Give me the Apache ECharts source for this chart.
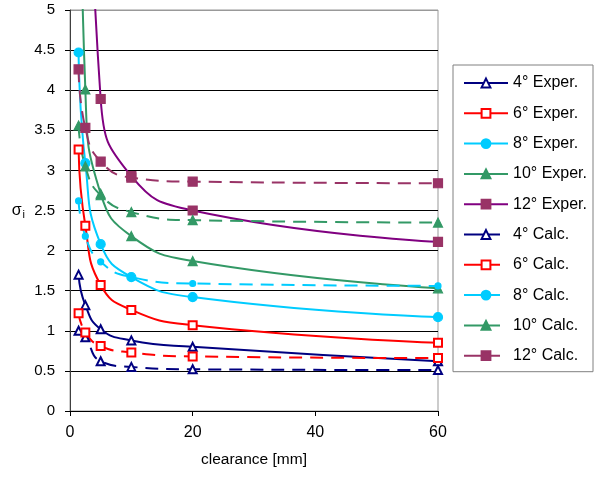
<!DOCTYPE html>
<html>
<head>
<meta charset="utf-8">
<script src="https://cdn.jsdelivr.net/npm/echarts@6/dist/echarts.min.js"></script>
<style>
  html, body { margin: 0; padding: 0; background: #fff; }
  #main { width: 610px; height: 477px; }
</style>
</head>
<body>
<div id="main"></div>
<script>
// clearance positions [mm]
var clearance = [1.4, 2.5, 5, 10, 20, 60];

// experimental curves (solid)
var exp4 = [1.70, 1.32, 1.02, 0.88, 0.80, 0.62];
var exp6 = [3.26, 2.31, 1.57, 1.26, 1.07, 0.85];
var exp8 = [4.47, 3.09, 2.08, 1.67, 1.42, 1.17];
var exp10 = [8.5, 4.01, 2.71, 2.18, 1.87, 1.53];
var exp12 = [null, 9.5, 3.89, 2.93, 2.50, 2.11];

// calculated curves (dashed)
var calc4 = [1.00, 0.92, 0.62, 0.55, 0.52, 0.51];
var calc6 = [1.22, 0.98, 0.81, 0.73, 0.68, 0.66];
var calc8 = [2.62, 2.18, 1.86, 1.67, 1.59, 1.56];
var calc10 = [3.56, 3.05, 2.69, 2.48, 2.38, 2.35];
var calc12 = [4.26, 3.53, 3.11, 2.91, 2.86, 2.84];

var xTicks = [0, 20, 40, 60];

var font = 'Liberation Sans, Arial, sans-serif';
var chart = echarts.init(document.getElementById('main'));

function pairs(vals) {
    var out = [];
    for (var i = 0; i < clearance.length; i++) {
        if (vals[i] !== null) out.push([clearance[i], vals[i]]);
    }
    return out;
}

// name, values, line colour, marker colour, symbol, size, dashed
var defs = [
    ['4° Exper.', exp4, '#000080', '#000080', 'emptyTriangle', 8, false],
    ['6° Exper.', exp6, '#FF0000', '#FF0000', 'emptyRect', 8, false],
    ['8° Exper.', exp8, '#00CCFF', '#00CCFF', 'circle', 9, false],
    ['10° Exper.', exp10, '#339966', '#339966', 'triangle', 9, false],
    ['12° Exper.', exp12, '#800080', '#993366', 'rect', 9, false],
    ['4° Calc.', calc4, '#000080', '#000080', 'emptyTriangle', 8, true],
    ['6° Calc.', calc6, '#FF0000', '#FF0000', 'emptyRect', 8, true],
    ['8° Calc.', calc8, '#00CCFF', '#00CCFF', 'circle', 6, true],
    ['10° Calc.', calc10, '#339966', '#339966', 'triangle', 9, true],
    ['12° Calc.', calc12, '#993366', '#993366', 'rect', 9, true]
];

var series = defs.map(function (d) {
    return {
        name: d[0],
        type: 'line',
        data: pairs(d[1]),
        smooth: true,
        clip: true,
        symbol: d[4],
        symbolSize: d[5],
        showSymbol: true,
        itemStyle: { color: d[3], borderColor: d[3], borderWidth: 1.2 },
        lineStyle: { color: d[2], width: 2, type: d[6] ? [13, 8] : 'solid' }
    };
});

var legendData = defs.map(function (d) {
    if (d[6]) return { name: d[0], lineStyle: { type: [36, 8] } };
    return { name: d[0] };
});

// black grid lines, grey one at the top
var splitColors = [];
for (var k = 0; k < 10; k++) splitColors.push('#000');
splitColors.push('#999');

var option = {
    animation: false,
    backgroundColor: '#fff',
    textStyle: { fontFamily: font },
    grid: {
        left: 70, top: 10, right: 172, bottom: 66,
        show: true, borderColor: '#999', borderWidth: 1
    },
    legend: {
        orient: 'vertical',
        left: 453, top: 65,
        padding: [10, 6, 8, 10],
        itemWidth: 44,
        itemHeight: 11,
        itemGap: 14.3,
        backgroundColor: '#fff',
        borderColor: '#808080',
        borderWidth: 1,
        borderRadius: 0,
        data: legendData,
        textStyle: { fontSize: 16, lineHeight: 16, color: '#000', fontFamily: font }
    },
    xAxis: {
        type: 'value',
        min: 0, max: 60, interval: 20,
        name: 'clearance [mm]',
        nameLocation: 'middle',
        nameGap: 41,
        nameTextStyle: { fontSize: 15.5, color: '#000' },
        axisLine: { lineStyle: { color: '#000', width: 1 } },
        axisTick: { show: true, length: 5, lineStyle: { color: '#000' } },
        axisLabel: {
            fontSize: 16, color: '#000', margin: 14,
            customValues: xTicks
        },
        splitLine: { show: false }
    },
    yAxis: {
        type: 'value',
        min: 0, max: 5, interval: 0.5,
        name: '{s|σ}{i|i}',
        nameLocation: 'middle',
        nameRotate: 0,
        nameGap: 45,
        nameTextStyle: {
            color: '#000',
            rich: {
                s: { fontSize: 16, lineHeight: 20, verticalAlign: 'middle', fontFamily: font },
                i: { fontSize: 11, lineHeight: 20, verticalAlign: 'bottom', padding: [0, 0, 0, 1], fontFamily: font }
            }
        },
        axisLine: { show: true, lineStyle: { color: '#404040', width: 1 } },
        axisTick: { show: true, length: 5, lineStyle: { color: '#000' } },
        axisLabel: { fontSize: 15, color: '#000', margin: 15 },
        splitLine: { show: true, lineStyle: { color: splitColors, width: 1 } }
    },
    series: series
};

chart.setOption(option);
</script>
</body>
</html>
